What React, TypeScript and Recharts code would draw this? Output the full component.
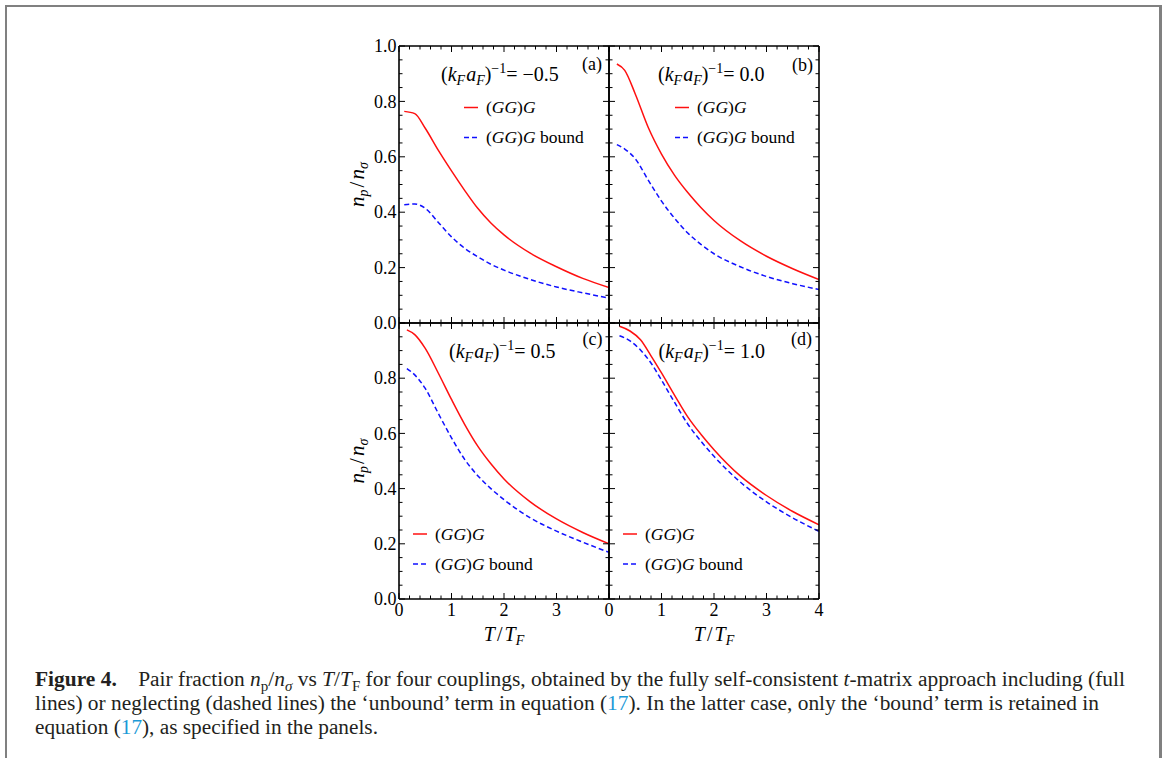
import React from "react";
import { LineChart, Line, XAxis, YAxis, Legend } from "recharts";

const SERIF = '"Liberation Serif", "Times New Roman", Times, serif';
const RED = "#ff1010";
const BLUE = "#1010ff";
const INK = "#231f20";
const LINK = "#1b9ad7";

// T/T_F positions where the curves were read, one list per panel
const tA = [0.1, 0.3, 0.5, 0.75, 1, 1.25, 1.5, 1.75, 2, 2.5, 3, 3.5, 4];
const fullA = [0.764, 0.756, 0.703, 0.623, 0.549, 0.479, 0.414, 0.361, 0.318, 0.252, 0.203, 0.161, 0.128];
const boundA = [0.427, 0.43, 0.414, 0.363, 0.311, 0.27, 0.239, 0.212, 0.191, 0.157, 0.13, 0.109, 0.09];

const tB = [0.15, 0.3, 0.5, 0.75, 1, 1.25, 1.5, 1.75, 2, 2.5, 3, 3.5, 4];
const fullB = [0.935, 0.912, 0.827, 0.705, 0.61, 0.533, 0.471, 0.417, 0.37, 0.297, 0.241, 0.196, 0.157];
const boundB = [0.644, 0.628, 0.593, 0.515, 0.44, 0.378, 0.325, 0.284, 0.25, 0.203, 0.168, 0.142, 0.121];

const tC = [0.15, 0.3, 0.5, 0.75, 1, 1.25, 1.5, 1.75, 2, 2.5, 3, 3.5, 4];
const fullC = [0.975, 0.958, 0.908, 0.818, 0.723, 0.633, 0.554, 0.49, 0.435, 0.352, 0.29, 0.241, 0.2];
const boundC = [0.835, 0.812, 0.763, 0.672, 0.584, 0.506, 0.447, 0.4, 0.36, 0.294, 0.246, 0.206, 0.169];

const tD = [0.2, 0.4, 0.6, 0.8, 1, 1.25, 1.5, 1.75, 2, 2.5, 3, 3.5, 4];
const fullD = [0.988, 0.971, 0.939, 0.881, 0.819, 0.738, 0.66, 0.597, 0.541, 0.446, 0.375, 0.317, 0.269];
const boundD = [0.954, 0.935, 0.902, 0.855, 0.793, 0.712, 0.634, 0.572, 0.517, 0.424, 0.352, 0.294, 0.245];

const couplings = [-0.5, 0, 0.5, 1];
const tags = ["(a)", "(b)", "(c)", "(d)"];
const seriesNames = ["(GG)G", "(GG)G bound"];

const xTicks = [0, 0.2, 0.4, 0.6, 0.8, 1, 1.2, 1.4, 1.6, 1.8, 2, 2.2, 2.4, 2.6, 2.8, 3, 3.2, 3.4, 3.6, 3.8, 4];
const yTicks = [0, 0.05, 0.1, 0.15, 0.2, 0.25, 0.3, 0.35, 0.4, 0.45, 0.5, 0.55, 0.6, 0.65, 0.7, 0.75, 0.8, 0.85, 0.9, 0.95, 1];

type Panel = {
  id: string;
  t: number[];
  full: number[];
  bound: number[];
  coupling: number;
  tag: string;
  left: number;
  top: number;
  w: number;
  h: number;
  yLabels: boolean;
  xLabels: boolean;
  hideY: number | null;
  hideX: number | null;
  yTitle: boolean;
  xTitle: boolean;
  note: [number, number];
  tagPos: [number, number];
  legend: [number, number];
};

const panels: Panel[] = [
  {
    id: "a", t: tA, full: fullA, bound: boundA, coupling: couplings[0], tag: tags[0],
    left: 399, top: 46, w: 210, h: 277, yLabels: true, xLabels: false, hideY: null, hideX: null,
    yTitle: true, xTitle: false, note: [441, 81], tagPos: [582, 69.5], legend: [464, 107.5],
  },
  {
    id: "b", t: tB, full: fullB, bound: boundB, coupling: couplings[1], tag: tags[1],
    left: 609, top: 46, w: 210, h: 277, yLabels: false, xLabels: false, hideY: null, hideX: null,
    yTitle: false, xTitle: false, note: [658, 81], tagPos: [792, 70.5], legend: [675, 107.5],
  },
  {
    id: "c", t: tC, full: fullC, bound: boundC, coupling: couplings[2], tag: tags[2],
    left: 399, top: 323, w: 210, h: 276, yLabels: true, xLabels: true, hideY: 1, hideX: 4,
    yTitle: true, xTitle: true, note: [449, 357.5], tagPos: [582.5, 345], legend: [413, 534],
  },
  {
    id: "d", t: tD, full: fullD, bound: boundD, coupling: couplings[3], tag: tags[3],
    left: 609, top: 323, w: 210, h: 276, yLabels: false, xLabels: true, hideY: null, hideX: null,
    yTitle: false, xTitle: true, note: [658.5, 357.5], tagPos: [791, 345], legend: [623, 534],
  },
];

const ML = 70;
const MR = 12;
const MT = 12;
const MB = 50;

const onStep = (v: number, step: number) => Math.abs(v / step - Math.round(v / step)) < 1e-6;

type Side = "left" | "right" | "top" | "bottom";

// inward frame ticks, labels only on the major ones
function tickFor(side: Side, showLabels: boolean, hide: number | null) {
  return (props: any) => {
    const x = Number(props.x);
    const y = Number(props.y);
    const v = Number(props.payload?.value);
    const vertical = side === "left" || side === "right";
    const major = vertical ? onStep(v, 0.2) : onStep(v, 1);
    const len = major ? 6 : 3.5;
    let x2 = x;
    let y2 = y;
    if (side === "left") x2 = x + len;
    if (side === "right") x2 = x - len;
    if (side === "top") y2 = y + len;
    if (side === "bottom") y2 = y - len;
    const hidden = hide !== null && Math.abs(v - hide) < 1e-6;
    const label = showLabels && major && !hidden;
    return (
      <g>
        <line x1={x} y1={y} x2={x2} y2={y2} stroke="#000" strokeWidth={1} />
        {label && side === "left" && (
          <text x={x - 2.5} y={y} dy="0.34em" textAnchor="end" fontFamily={SERIF} fontSize={18} fill="#000">
            {v.toFixed(1)}
          </text>
        )}
        {label && side === "bottom" && (
          <text x={x} y={y + 16.5} textAnchor="middle" fontFamily={SERIF} fontSize={18} fill="#000">
            {String(Math.round(v))}
          </text>
        )}
      </g>
    );
  };
}

function SeriesLabel({ name }: { name: string }) {
  const rest = name.slice(5);
  return (
    <>
      <tspan>(</tspan>
      <tspan fontStyle="italic">GG</tspan>
      <tspan>)</tspan>
      <tspan fontStyle="italic">G</tspan>
      {rest && <tspan>{rest}</tspan>}
    </>
  );
}

function PanelNotes({ p, ox, oy, W, H, payload }: { p: Panel; ox: number; oy: number; W: number; H: number; payload: any[] }) {
  const [nx, ny] = p.note;
  const [tx, ty] = p.tagPos;
  const [lx, ly] = p.legend;
  const val = (p.coupling < 0 ? "\u2212" : "") + Math.abs(p.coupling).toFixed(1);
  const entries = payload && payload.length ? payload : seriesNames.map((n, i) => ({ value: n, color: i ? BLUE : RED }));
  return (
    <svg width={W} height={H} style={{ display: "block", overflow: "visible" }}>
      <g fontFamily={SERIF} fontSize={17.5} fill="#000">
        <text x={nx - ox} y={ny - oy} fontSize={20}>
          <tspan>(</tspan>
          <tspan fontStyle="italic">k</tspan>
          <tspan fontStyle="italic" fontSize={14} dy={4}>F</tspan>
          <tspan fontStyle="italic" dy={-4} dx={1}>a</tspan>
          <tspan fontStyle="italic" fontSize={14} dy={4}>F</tspan>
          <tspan dy={-4}>)</tspan>
          <tspan fontSize={14} dy={-8}>{"\u22121"}</tspan>
          <tspan dy={8}>=</tspan>
          <tspan dx={5}>{val}</tspan>
        </text>
        <text x={tx - ox} y={ty - oy} fontSize={18}>{p.tag}</text>
        {entries.map((e: any, i: number) => {
          const yy = ly - oy + i * 30;
          const dashed = i === 1;
          return (
            <g key={i}>
              <line
                x1={lx - ox}
                x2={lx - ox + 14}
                y1={yy}
                y2={yy}
                stroke={e.color}
                strokeWidth={1.5}
                strokeDasharray={dashed ? "5 3" : undefined}
              />
              <text x={lx - ox + 22} y={yy + 5.8}>
                <SeriesLabel name={String(e.value)} />
              </text>
            </g>
          );
        })}
      </g>
    </svg>
  );
}

function PanelChart({ p }: { p: Panel }) {
  const W = ML + p.w + MR;
  const H = MT + p.h + MB;
  const ox = p.left - ML;
  const oy = p.top - MT;
  const rows = p.t.map((t, i) => ({ t, full: p.full[i], bound: p.bound[i] }));
  const frame = { stroke: "#000", strokeWidth: 1.6 };

  const yTitle = () => (
    <text
      x={363.5 - ox}
      y={MT + p.h / 2}
      transform={`rotate(-90, ${363.5 - ox}, ${MT + p.h / 2})`}
      textAnchor="middle"
      fontFamily={SERIF}
      fontSize={21}
      fill="#000"
    >
      <tspan fontStyle="italic">n</tspan>
      <tspan fontStyle="italic" fontSize={14} dy={4}>p</tspan>
      <tspan dy={-4} dx={2}>/</tspan>
      <tspan fontStyle="italic" dx={2}>n</tspan>
      <tspan fontStyle="italic" fontSize={14} dy={4}>σ</tspan>
    </text>
  );

  const xTitle = () => (
    <text x={ML + p.w / 2} y={641 - oy} textAnchor="middle" fontFamily={SERIF} fontSize={20} fill="#000">
      <tspan fontStyle="italic">T</tspan>
      <tspan dx={2}>/</tspan>
      <tspan fontStyle="italic" dx={2}>T</tspan>
      <tspan fontStyle="italic" fontSize={14} dy={4}>F</tspan>
    </text>
  );

  return (
    <div style={{ position: "absolute", left: ox, top: oy }}>
      <LineChart width={W} height={H} data={rows} margin={{ top: MT - 1, right: MR - 1, bottom: 0, left: 0 }}>
        <XAxis
          xAxisId="b"
          dataKey="t"
          type="number"
          domain={[0, 4]}
          allowDataOverflow
          ticks={xTicks}
          interval={0}
          height={MB}
          tickSize={0}
          tickMargin={0}
          tickLine={false}
          axisLine={frame}
          tick={tickFor("bottom", p.xLabels, p.hideX)}
          label={p.xTitle ? { content: xTitle } : undefined}
        />
        <XAxis
          xAxisId="t"
          orientation="top"
          dataKey="t"
          type="number"
          domain={[0, 4]}
          allowDataOverflow
          ticks={xTicks}
          interval={0}
          height={1}
          tickSize={0}
          tickMargin={0}
          tickLine={false}
          axisLine={frame}
          tick={tickFor("top", false, null)}
        />
        <YAxis
          yAxisId="l"
          type="number"
          domain={[0, 1]}
          allowDataOverflow
          ticks={yTicks}
          interval={0}
          width={ML}
          tickSize={0}
          tickMargin={0}
          tickLine={false}
          axisLine={frame}
          tick={tickFor("left", p.yLabels, p.hideY)}
          label={p.yTitle ? { content: yTitle } : undefined}
        />
        <YAxis
          yAxisId="r"
          orientation="right"
          type="number"
          domain={[0, 1]}
          allowDataOverflow
          ticks={yTicks}
          interval={0}
          width={1}
          tickSize={0}
          tickMargin={0}
          tickLine={false}
          axisLine={frame}
          tick={tickFor("right", false, null)}
        />
        <Line
          xAxisId="b"
          yAxisId="l"
          dataKey="full"
          name={seriesNames[0]}
          type="monotone"
          stroke={RED}
          strokeWidth={1.5}
          dot={false}
          isAnimationActive={false}
        />
        <Line
          xAxisId="b"
          yAxisId="l"
          dataKey="bound"
          name={seriesNames[1]}
          type="monotone"
          stroke={BLUE}
          strokeWidth={1.5}
          strokeDasharray="5 3"
          dot={false}
          isAnimationActive={false}
        />
        <Legend
          layout="vertical"
          align="center"
          verticalAlign="middle"
          wrapperStyle={{ position: "absolute", left: 0, top: 0, width: W, height: H, pointerEvents: "none" }}
          content={(lp: any) => <PanelNotes p={p} ox={ox} oy={oy} W={W} H={H} payload={lp.payload} />}
        />
      </LineChart>
    </div>
  );
}

function Caption() {
  return (
    <svg width={1174} height={758} style={{ position: "absolute", left: 0, top: 0 }}>
      <g fontFamily={SERIF} fontSize={20} fill={INK}>
        <text x={35} y={686} textLength={1090} lengthAdjust="spacingAndGlyphs">
          <tspan fontWeight="bold">Figure 4.</tspan>
          <tspan>{"\u2003Pair fraction "}</tspan>
          <tspan fontStyle="italic">n</tspan>
          <tspan fontSize={14} dy={5}>p</tspan>
          <tspan dy={-5}>/</tspan>
          <tspan fontStyle="italic">n</tspan>
          <tspan fontStyle="italic" fontSize={14} dy={5}>σ</tspan>
          <tspan dy={-5}>{" vs "}</tspan>
          <tspan fontStyle="italic">T</tspan>
          <tspan>/</tspan>
          <tspan fontStyle="italic">T</tspan>
          <tspan fontSize={14} dy={5}>F</tspan>
          <tspan dy={-5}>{" for four couplings, obtained by the fully self-consistent "}</tspan>
          <tspan fontStyle="italic">t</tspan>
          <tspan>-matrix approach including (full</tspan>
        </text>
        <text x={35} y={710} textLength={1064} lengthAdjust="spacingAndGlyphs">
          <tspan>{"lines) or neglecting (dashed lines) the \u2018unbound\u2019 term in equation ("}</tspan>
          <tspan fill={LINK}>17</tspan>
          <tspan>{"). In the latter case, only the \u2018bound\u2019 term is retained in"}</tspan>
        </text>
        <text x={35} y={734} textLength={343} lengthAdjust="spacingAndGlyphs">
          <tspan>{"equation ("}</tspan>
          <tspan fill={LINK}>17</tspan>
          <tspan>{"), as specified in the panels."}</tspan>
        </text>
      </g>
    </svg>
  );
}

export default function App() {
  return (
    <div
      style={{
        position: "absolute",
        left: 0,
        top: 0,
        width: 1174,
        height: 758,
        overflow: "hidden",
        background: "#fff",
      }}
    >
      <div
        style={{
          position: "absolute",
          left: 5,
          top: 5,
          width: 1152,
          height: 800,
          borderLeft: "2px solid #808080",
          borderTop: "2px solid #808080",
          borderRight: "3px solid #808080",
        }}
      />
      <Caption />
      {panels.map((p) => (
        <PanelChart key={p.id} p={p} />
      ))}
    </div>
  );
}
